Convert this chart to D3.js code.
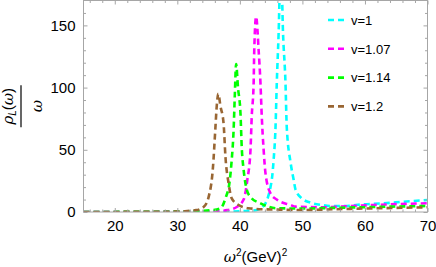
<!DOCTYPE html>
<html>
<head>
<meta charset="utf-8">
<script src="https://cdn.jsdelivr.net/npm/d3@7"></script>
<style>
  body { margin: 0; background: #fff; }
  svg { display: block; font-family: "Liberation Sans", Arial, sans-serif; }
</style>
</head>
<body>
<svg id="chart" width="436" height="267"></svg>
<script>
// values, [omega^2, rho_L/omega]
var seriesNames = ["v=1", "v=1.07", "v=1.14", "v=1.2"];
var seriesColors = ["#00ffff", "#ff00ff", "#00ff00", "#996633"];

var curveV100 = [[15,0],[30,0.1],[38,0.3],[41,0.8],[42.7,1.6],[43.6,4],[44.1,7],[44.5,12],[44.9,20],[45.2,30],
  [45.4,42],[45.7,68],[45.9,103],[46.2,144],[46.55,205],[46.9,144],[47.3,103],[47.5,68],[48.1,40],[48.6,26],
  [48.9,18],[49.9,11],[51.3,7.5],[53.1,5.6],[54.7,4.8],[56.6,4.8],[59.8,6.2],[63,7],[66.2,8.3],[70,9.6]];

var curveV107 = [[15,0],[30,0.1],[36,0.5],[38,1.5],[39.5,4],[40.6,10],[41.2,26],[41.7,50],[41.9,77],[42.2,103],
  [42.3,130],[42.6,157],[43.0,130],[43.3,103],[43.5,77],[43.8,50],[44.1,31],[44.9,15],[45.9,10],[48.1,5.6],
  [48.9,4.3],[53.4,3.8],[57,4.6],[61.4,5.6],[65,6.3],[70,7]];

var curveV114 = [[15,0],[30,0.3],[33,0.8],[35.5,1.5],[36.9,3],[37.7,11],[38.4,26],[38.7,42],[39.0,66],[39.2,95],
  [39.4,119],[39.7,100],[40.1,79],[40.3,52],[40.6,34],[41.1,18],[41.7,12],[43.3,7],[45.9,3],[50,2.8],
  [55,3.3],[60,3.9],[65,4.4],[70,4.8]];

var curveV120 = [[15,0],[28,0.2],[31,0.6],[33,1.5],[34.2,4],[35.0,12],[35.7,36],[36.07,66],[36.3,85],[36.55,95],
  [36.9,85],[37.4,71],[37.7,44],[38.2,23],[38.7,11],[39.8,5.6],[41.4,3],[45,2],[50,1.6],[55,2.2],
  [60,2.8],[65,3.3],[70,3.8]];

var allCurves = [curveV100, curveV107, curveV114, curveV120];

var xTicks = [20, 30, 40, 50, 60, 70];
var yTicks = [0, 50, 100, 150];

var svg = d3.select("#chart");
var plotL = 83.5, plotR = 427.5, plotT = 0.5, plotB = 212;

var x = d3.scaleLinear().domain([15, 70]).range([plotL, plotR]);
var y = d3.scaleLinear().domain([0, 170]).range([plotB, plotT]);

var frameColor = "#a6a6a6";

svg.append("defs").append("clipPath").attr("id", "plotclip")
  .append("rect").attr("x", plotL).attr("y", plotT).attr("width", plotR - plotL).attr("height", plotB - plotT);

// curves (cyan first, brown last so it sits on top)
var line = d3.line().x(function(d) { return x(d[0]); }).y(function(d) { return y(d[1]); })
  .curve(d3.curveMonotoneX);

var plot = svg.append("g").attr("clip-path", "url(#plotclip)");
allCurves.forEach(function(c, i) {
  plot.append("path").datum(c)
    .attr("d", line)
    .attr("fill", "none")
    .attr("stroke", seriesColors[i])
    .attr("stroke-width", 2.6)
    .attr("stroke-dasharray", "6,4");
});

// frame with inward ticks on all sides
svg.append("rect").attr("x", plotL).attr("y", plotT).attr("width", plotR - plotL).attr("height", plotB - plotT)
  .attr("fill", "none").attr("stroke", frameColor).attr("stroke-width", 1);

var xMinor = d3.range(16, 70, 2).filter(function(v) { return v % 10 !== 0; });
var yMinor = d3.range(10, 170, 10).filter(function(v) { return v % 50 !== 0; });

function styleAxis(g) {
  g.select(".domain").remove();
  g.selectAll("line").attr("stroke", frameColor);
  g.selectAll("text").attr("fill", "#000").style("font-size", "15px").style("font-family", "Liberation Sans, Arial, sans-serif");
}
svg.append("g").attr("transform", "translate(0," + plotB + ")")
  .call(d3.axisBottom(x).tickValues(xTicks).tickSize(-4).tickPadding(8)).call(styleAxis);
svg.append("g").attr("transform", "translate(0," + plotT + ")")
  .call(d3.axisTop(x).tickValues(xTicks).tickSize(-4).tickFormat("")).call(styleAxis);
svg.append("g").attr("transform", "translate(" + plotL + ",0)")
  .call(d3.axisLeft(y).tickValues(yTicks).tickSize(-4).tickPadding(8)).call(styleAxis);
svg.append("g").attr("transform", "translate(" + plotR + ",0)")
  .call(d3.axisRight(y).tickValues(yTicks).tickSize(-4).tickFormat("")).call(styleAxis);

// minor ticks
svg.append("g").attr("transform", "translate(0," + plotB + ")")
  .call(d3.axisBottom(x).tickValues(xMinor).tickSize(-2.5).tickFormat("")).call(styleAxis);
svg.append("g").attr("transform", "translate(0," + plotT + ")")
  .call(d3.axisTop(x).tickValues(xMinor).tickSize(-2.5).tickFormat("")).call(styleAxis);
svg.append("g").attr("transform", "translate(" + plotL + ",0)")
  .call(d3.axisLeft(y).tickValues(yMinor).tickSize(-2.5).tickFormat("")).call(styleAxis);
svg.append("g").attr("transform", "translate(" + plotR + ",0)")
  .call(d3.axisRight(y).tickValues(yMinor).tickSize(-2.5).tickFormat("")).call(styleAxis);

// legend
var legend = svg.append("g");
seriesNames.forEach(function(name, i) {
  var ly = 20 + i * 28.8;
  legend.append("line").attr("x1", 328).attr("x2", 344).attr("y1", ly).attr("y2", ly)
    .attr("stroke", seriesColors[i]).attr("stroke-width", 2.6).attr("stroke-dasharray", "6,4");
  legend.append("text").attr("x", 351).attr("y", ly + 4.7).style("font-size", "13px").text(name);
});

// x axis title
var xt = svg.append("text").attr("x", (plotL + plotR) / 2).attr("y", 262)
  .attr("text-anchor", "middle").style("font-size", "15px");
xt.append("tspan").style("font-style", "italic").style("font-family", "DejaVu Serif, serif").text("ω");
xt.append("tspan").attr("dy", -6).style("font-size", "10px").text("2");
xt.append("tspan").attr("dy", 6).text("(GeV)");
xt.append("tspan").attr("dy", -6).style("font-size", "10px").text("2");

// y axis title, rotated fraction
var yt = svg.append("g").attr("transform", "translate(21," + ((plotT + plotB) / 2) + ") rotate(-90)");
yt.append("line").attr("x1", -21).attr("x2", 21).attr("y1", 0).attr("y2", 0)
  .attr("stroke", "#000").attr("stroke-width", 1.2);
var num = yt.append("text").attr("x", 0).attr("y", -8).attr("text-anchor", "middle").style("font-size", "15px");
num.append("tspan").style("font-style", "italic").style("font-family", "DejaVu Serif, serif").text("ρ");
num.append("tspan").attr("dy", 3).style("font-size", "10px").style("font-style", "italic").text("L");
num.append("tspan").attr("dy", -3).text("(");
num.append("tspan").style("font-style", "italic").style("font-family", "DejaVu Serif, serif").text("ω");
num.append("tspan").text(")");
yt.append("text").attr("x", 0).attr("y", 21).attr("text-anchor", "middle")
  .style("font-size", "15px").style("font-style", "italic").style("font-family", "DejaVu Serif, serif").text("ω");
</script>
</body>
</html>
